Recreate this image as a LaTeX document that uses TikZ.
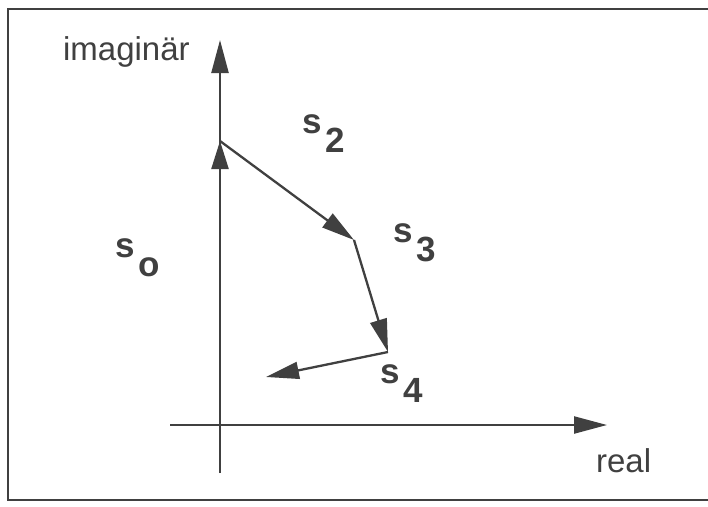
\documentclass[tikz,border=0pt]{standalone}
\usepackage{fontspec}
\setmainfont{Liberation Sans}
\usetikzlibrary{arrows.meta}
\definecolor{ink}{HTML}{404040}
\newcommand\lowidx[1]{\hspace{4pt}\raisebox{-19pt}{#1}}

\begin{document}
\begin{tikzpicture}[x=1pt,y=-1pt,line width=2.3pt,
	vec/.style={ink,-{Triangle[length=33pt,width=17pt]}},
	lbl/.style={ink,inner sep=0pt,anchor=base west,font=\fontsize{35}{40}\selectfont\bfseries},
	txt/.style={ink,inner sep=0pt,anchor=base west,font=\fontsize{33}{38}\selectfont}]
	\useasboundingbox (0,0) rectangle (708,506);
	% frame
	\draw[ink,line width=1.5pt] (708,9) -- (8,9) -- (8,500) -- (708,500);
	% axes
	\coordinate (O) at (220,425);
	\coordinate (xa) at (170,425);
	\coordinate (xb) at (607,425);
	\coordinate (ya) at (220,473);
	\coordinate (yb) at (220,40);
	\draw[vec] (xa) -- (xb);
	\draw[vec] (ya) -- (yb);
	\node[txt] (im) at (62,60) {imagin\"ar};
	\node[txt] (re) at (595,472) {real};
	% pointer chain
	\coordinate (P1) at (220,141);
	\coordinate (P2) at (354,240);
	\coordinate (P3) at (388,352);
	\coordinate (P4) at (266,377);
	\draw[vec,-{Triangle[length=28pt,width=17pt]}] (O) -- (P1);
	\draw[vec] (P1) -- (P2);
	\draw[vec] (P2) -- (P3);
	\draw[vec] (P3) -- (P4);
	\node[lbl] (s0) at (114,257) {s\lowidx{o}};
	\node[lbl] (s2) at (301,133) {s\lowidx{2}};
	\node[lbl] (s3) at (392,242) {s\lowidx{3}};
	\node[lbl] (s4) at (379,383) {s\lowidx{4}};
\end{tikzpicture}
\end{document}
